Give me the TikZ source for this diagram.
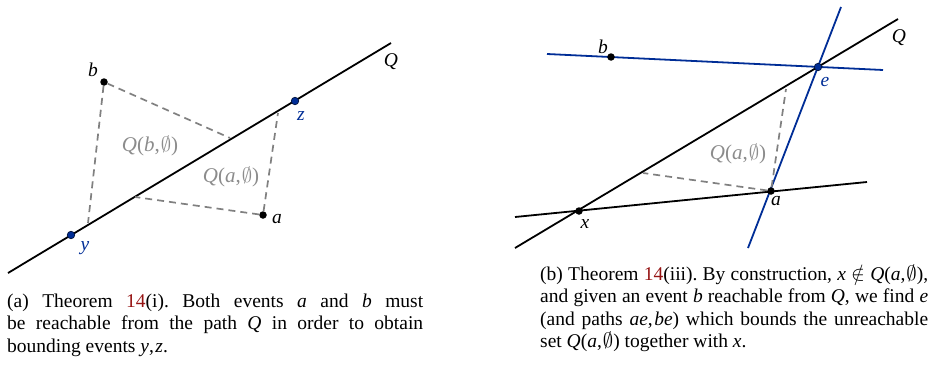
\documentclass[tikz,border=0pt]{standalone}
\usepackage{fontspec}
\setmainfont{Liberation Serif}
\frenchspacing
\definecolor{pblue}{RGB}{0,45,150}
\definecolor{dashgray}{RGB}{128,128,128}
\definecolor{lblgray}{RGB}{140,140,140}
\definecolor{refred}{RGB}{150,20,20}
\newcommand{\mEmpty}{$\emptyset$}
\tikzset{
  pathline/.style={line width=1.8pt, black},
  bluepath/.style={line width=1.8pt, pblue},
  reach/.style={line width=1.7pt, dashgray, dash pattern=on 7pt off 5pt},
  evt/.style={circle, fill=black, inner sep=0pt, minimum size=7.5pt},
  bevt/.style={circle, fill=pblue, draw=black!60!pblue, line width=0.7pt, inner sep=0pt, minimum size=7.5pt},
  lbl/.style={font=\fontsize{19.5}{22}\selectfont\itshape, inner sep=0pt},
  blbl/.style={lbl, text=pblue},
  glbl/.style={font=\fontsize{21}{22}\selectfont, text=lblgray, inner sep=0pt},
  capt/.style={font=\fontsize{19.5}{22.5}\selectfont\frenchspacing, inner sep=0pt, anchor=base west, align=justify}
}
\begin{document}
\begin{tikzpicture}[x=1pt,y=-1pt]
\useasboundingbox (0,0) rectangle (931,370);
% ---------- left figure ----------
\coordinate (L1) at (8,273);
\coordinate (L2) at (391,43);
\draw[pathline] (L1) -- (L2);
\node[evt] (bL) at (104,82) {};
\node[evt] (aL) at (263,215) {};
\node[bevt] (yL) at (71,235) {};
\node[bevt] (zL) at (295,101) {};
\coordinate (bq) at (230,138);
\coordinate (by) at (88,223);
\coordinate (aq) at (135,197);
\coordinate (az) at (278,113);
\draw[reach] (bL) -- (bq);
\draw[reach] (bL) -- (by);
\draw[reach] (aL) -- (aq);
\draw[reach] (aL) -- (az);
\node[lbl] (bLl) at (93,70) {b};
\node[lbl] (aLl) at (277,219) {a};
\node[blbl] (yLl) at (85,248) {y};
\node[blbl] (zLl) at (301,116) {z};
\node[lbl] (QLl) at (391,62) {Q};
\node[glbl] (QbL) at (150,146) {\textit{Q}(\textit{b},\kern1pt\mEmpty)};
\node[glbl] (QaL) at (231,177) {\textit{Q}(\textit{a},\kern1pt\mEmpty)};
% ---------- right figure ----------
\coordinate (R1) at (515,248);
\coordinate (R2) at (898,19);
\coordinate (X1) at (515,217);
\coordinate (X2) at (867,182);
\coordinate (B1) at (547,54);
\coordinate (B2) at (883,70);
\coordinate (E1) at (748,248);
\coordinate (E2) at (841,7);
\draw[pathline] (R1) -- (R2);
\draw[pathline] (X1) -- (X2);
\draw[bluepath] (B1) -- (B2);
\draw[bluepath] (E1) -- (E2);
\node[evt] (xR) at (579,211) {};
\node[evt] (aR) at (771,191) {};
\node[evt] (bR) at (611,57) {};
\node[bevt] (eR) at (818,67) {};
\coordinate (aq2) at (643,173);
\coordinate (ae2) at (786,89);
\draw[reach] (aR) -- (aq2);
\draw[reach] (aR) -- (ae2);
\node[lbl] (xRl) at (585,224) {x};
\node[lbl] (aRl) at (776,201) {a};
\node[lbl] (bRl) at (603,47) {b};
\node[blbl] (eRl) at (825,82) {e};
\node[lbl] (QRl) at (899,38) {Q};
\node[glbl] (QaR) at (738,154) {\textit{Q}(\textit{a},\kern1pt\mEmpty)};
% ---------- captions ----------
\node[capt, text width=416pt] (capA) at (7,307) {(a) Theorem \textcolor{refred}{14}(i). Both events \textit{a} and \textit{b} must\linebreak be reachable from the path \textit{Q} in order to obtain\linebreak bounding events \textit{y},\kern1.5pt\textit{z}.};
\node[capt, text width=388pt] (capB) at (540,280) {(b) Theorem \textcolor{refred}{14}(iii). By construction, \textit{x}~$\notin$~\textit{Q}(\textit{a},\kern1pt\mEmpty),\linebreak and given an event \textit{b} reachable from \textit{Q}, we find \textit{e}\linebreak (and paths \textit{ae},\kern1.5pt\textit{be}) which bounds the unreachable\linebreak set \textit{Q}(\textit{a},\kern1pt\mEmpty) together with \textit{x}.};
\end{tikzpicture}
\end{document}
